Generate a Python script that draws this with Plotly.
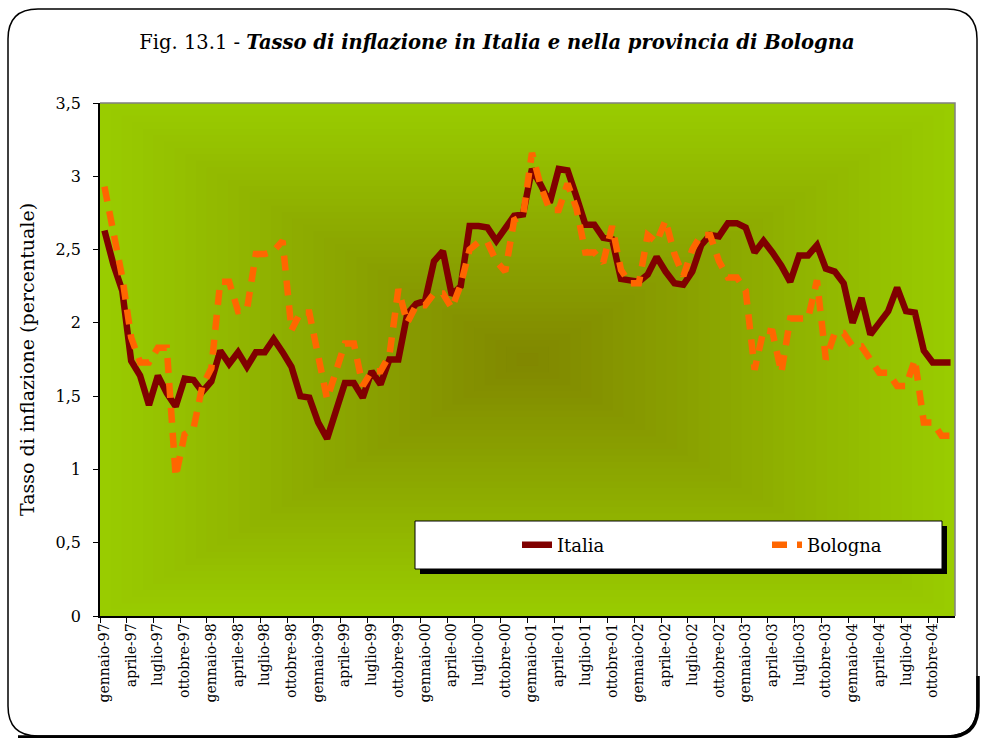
import plotly.graph_objects as go

# ---------------- data ----------------
mesi = ["gennaio", "febbraio", "marzo", "aprile", "maggio", "giugno",
        "luglio", "agosto", "settembre", "ottobre", "novembre", "dicembre"]
anni = ["97", "98", "99", "00", "01", "02", "03", "04"]
categorie = [f"{m}-{a}" for a in anni for m in mesi]

italia = [
    2.63, 2.40, 2.22, 1.74, 1.64, 1.44, 1.64, 1.52, 1.43, 1.62, 1.61, 1.53,
    1.60, 1.81, 1.72, 1.80, 1.70, 1.80, 1.80, 1.89, 1.80, 1.70, 1.50, 1.49,
    1.32, 1.21, 1.40, 1.59, 1.59, 1.49, 1.67, 1.58, 1.75, 1.75, 2.06, 2.13,
    2.15, 2.42, 2.49, 2.19, 2.25, 2.66, 2.66, 2.65, 2.56, 2.65, 2.73, 2.74,
    3.05, 2.94, 2.82, 3.05, 3.04, 2.86, 2.67, 2.67, 2.58, 2.57, 2.30, 2.29,
    2.28, 2.33, 2.45, 2.35, 2.27, 2.26, 2.35, 2.53, 2.60, 2.59, 2.68, 2.68,
    2.65, 2.48, 2.56, 2.48, 2.39, 2.28, 2.46, 2.46, 2.53, 2.37, 2.35, 2.27,
    2.00, 2.17, 1.92, 2.00, 2.08, 2.24, 2.08, 2.07, 1.81, 1.73, 1.73, 1.73,
]

bologna = [
    2.93, 2.60, 2.31, 1.90, 1.73, 1.73, 1.83, 1.83, 0.95, 1.24, 1.28, 1.57,
    1.69, 2.28, 2.28, 2.08, 2.09, 2.47, 2.47, 2.49, 2.56, 1.95, 2.07, 2.07,
    1.75, 1.48, 1.67, 1.86, 1.86, 1.57, 1.67, 1.67, 1.78, 2.23, 2.00, 2.12,
    2.12, 2.20, 2.20, 2.10, 2.26, 2.50, 2.55, 2.55, 2.42, 2.35, 2.70, 2.73,
    3.16, 2.93, 2.77, 2.77, 2.95, 2.78, 2.48, 2.48, 2.41, 2.66, 2.36, 2.27,
    2.27, 2.60, 2.55, 2.70, 2.47, 2.32, 2.50, 2.60, 2.60, 2.42, 2.31, 2.31,
    2.22, 1.68, 1.95, 1.94, 1.66, 2.03, 2.03, 2.03, 2.29, 1.75, 1.93, 1.93,
    1.84, 1.84, 1.75, 1.66, 1.66, 1.57, 1.57, 1.75, 1.32, 1.32, 1.23, 1.23,
]

tick_labels = categorie[::3]
y_ticks = [0, 0.5, 1, 1.5, 2, 2.5, 3, 3.5]

# ---------------- geometry helpers (pixels -> paper) ----------------
W, H = 982, 738
L, R, T, B = 100, 955, 103, 616


def px(x):
    return (x - L) / (R - L)


def py(y):
    return (B - y) / (B - T)


FONT = "DejaVu Serif"

fig = go.Figure()

fig.add_trace(go.Scatter(
    x=categorie, y=italia, name="Italia", mode="lines",
    line=dict(color="#800000", width=6.5),
))
fig.add_trace(go.Scatter(
    x=categorie, y=bologna, name="Bologna", mode="lines",
    line=dict(color="#FF6600", width=6.5, dash="15px,10px"),
))

shapes = []

# background gradient (rectangular, from centre)
edge = (0x99, 0xCC, 0x00)
centre = (0x80, 0x86, 0x00)
N = 40
for k in range(N):
    f = k / N
    t = 0.5 * f
    c = tuple(round(edge[j] + (centre[j] - edge[j]) * f) for j in range(3))
    shapes.append(dict(
        type="rect", xref="x domain", yref="y domain",
        x0=t, x1=1 - t, y0=t, y1=1 - t,
        fillcolor="rgb(%d,%d,%d)" % c, line=dict(width=0), layer="below",
    ))

# plot-area border top/right (grey)
shapes.append(dict(
    type="path", xref="paper", yref="paper",
    path="M 0,1 L 1,1 L 1,0", line=dict(color="#808080", width=1.5),
    layer="above",
))

# outer rounded frame
x0, y0, x1, y1, r = 8, 9, 977, 736, 30
frame = (
    f"M {px(x0)},{py(y0 + r)} Q {px(x0)},{py(y0)} {px(x0 + r)},{py(y0)} "
    f"L {px(x1 - r)},{py(y0)} Q {px(x1)},{py(y0)} {px(x1)},{py(y0 + r)} "
    f"L {px(x1)},{py(y1 - r)} Q {px(x1)},{py(y1)} {px(x1 - r)},{py(y1)} "
    f"L {px(x0 + r)},{py(y1)} Q {px(x0)},{py(y1)} {px(x0)},{py(y1 - r)} Z"
)
shapes.append(dict(type="path", xref="paper", yref="paper", path=frame,
                   line=dict(color="black", width=1.5)))
# heavier bottom-right shadow
shadow = (
    f"M {px(x1 + 1)},{py(y1 - 60)} L {px(x1 + 1)},{py(y1 - r)} "
    f"Q {px(x1 + 1)},{py(y1 + 1)} {px(x1 - r)},{py(y1 + 1)} "
    f"L {px(x0 + 10)},{py(y1 + 1)}"
)
shapes.append(dict(type="path", xref="paper", yref="paper", path=shadow,
                   line=dict(color="black", width=3.5)))

# legend box with shadow
lx0, ly0, lx1, ly1 = 415, 521, 942, 569
shapes.append(dict(type="rect", xref="paper", yref="paper",
                   x0=px(lx0 + 5), x1=px(lx1 + 5), y0=py(ly1 + 5), y1=py(ly0 + 5),
                   fillcolor="black", line=dict(width=0), layer="above"))
shapes.append(dict(type="rect", xref="paper", yref="paper",
                   x0=px(lx0), x1=px(lx1), y0=py(ly1), y1=py(ly0),
                   fillcolor="white", line=dict(color="black", width=1),
                   layer="above"))

fig.update_layout(
    width=W, height=H,
    margin=dict(l=L, r=W - R, t=T, b=H - B, autoexpand=False),
    paper_bgcolor="white",
    plot_bgcolor="#99CC00",
    separators=", ",
    font=dict(family=FONT, color="black"),
    title=dict(
        text="Fig. 13.1 - <b><i>Tasso di inflazione in Italia e nella provincia di Bologna</i></b>",
        x=0.506, xref="container", xanchor="center",
        y=1 - 42 / H, yref="container", yanchor="middle",
        font=dict(family=FONT, size=19.5, color="black"),
    ),
    xaxis=dict(
        type="category", range=[-0.5, len(categorie) - 0.5],
        tickmode="array", tickvals=tick_labels, ticktext=tick_labels,
        tickangle=-90, ticks="outside", ticklen=5, tickcolor="black",
        tickson="boundaries",
        showline=True, linecolor="black", linewidth=1.5,
        showgrid=False, zeroline=False,
        tickfont=dict(family=FONT, size=14, color="black"),
    ),
    yaxis=dict(
        range=[0, 3.5], tickmode="array", tickvals=y_ticks,
        ticks="outside", ticklen=5, tickcolor="black",
        ticklabelstandoff=9,
        showline=True, linecolor="black", linewidth=1.5,
        showgrid=False, zeroline=False,
        tickfont=dict(family=FONT, size=16, color="black"),
        title=dict(text="Tasso di inflazione (percentuale)",
                   font=dict(family=FONT, size=19, color="black"),
                   standoff=16),
    ),
    legend=dict(
        orientation="h", x=px(517), xanchor="left",
        y=py(545), yanchor="middle",
        bgcolor="rgba(0,0,0,0)", borderwidth=0,
        entrywidth=205, entrywidthmode="pixels",
        font=dict(family=FONT, size=18, color="black"),
    ),
    shapes=shapes,
    showlegend=True,
)

fig.write_html(
    "out.html",
    config={"displayModeBar": False},
    post_script="document.body.style.margin='0px';",
)
